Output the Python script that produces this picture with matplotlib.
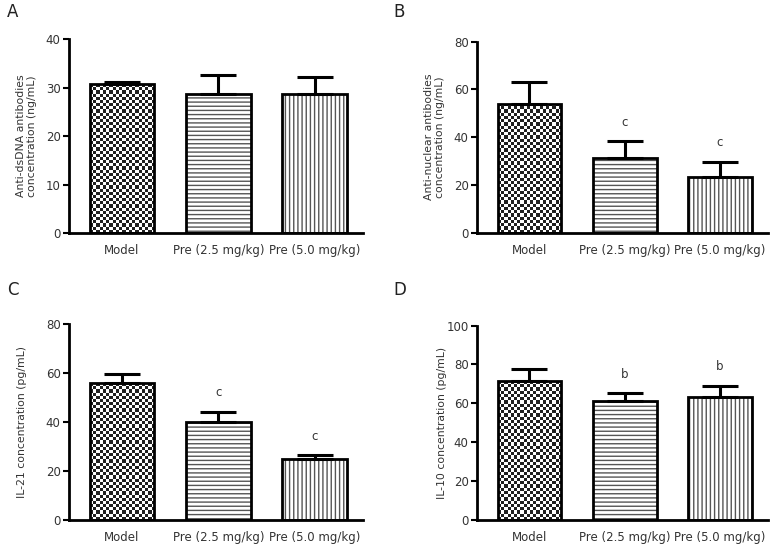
import numpy as np
import matplotlib
matplotlib.use("Agg")
import matplotlib.pyplot as plt

categories = ["Model", "Pre (2.5 mg/kg)", "Pre (5.0 mg/kg)"]

a_means = [30.7, 28.7, 28.7]
a_errs = [0.5, 3.9, 3.5]
b_means = [54.1, 31.1, 23.2]
b_errs = [9.1, 7.3, 6.5]
c_means = [55.8, 39.9, 24.8]
c_errs = [3.9, 4.2, 1.7]
d_means = [71.3, 61.3, 63.1]
d_errs = [6.4, 4.0, 6.0]

b_marks = ["", "c", "c"]
c_marks = ["", "c", "c"]
d_marks = ["", "b", "b"]
a_marks = ["", "", ""]

panels = [
    dict(letter="A", means=a_means, errs=a_errs, marks=a_marks, ymax=40, step=10,
         ylabel="Anti-dsDNA antibodies\nconcentration (ng/mL)",
         rect=[0.0888, 0.5748, 0.378, 0.354], lab=-0.108),
    dict(letter="B", means=b_means, errs=b_errs, marks=b_marks, ymax=80, step=20,
         ylabel="Anti-nuclear antibodies\nconcentration (ng/mL)",
         rect=[0.614, 0.5754, 0.374, 0.3485], lab=-0.110),
    dict(letter="C", means=c_means, errs=c_errs, marks=c_marks, ymax=80, step=20,
         ylabel="IL-21 concentration (pg/mL)",
         rect=[0.0888, 0.0511, 0.378, 0.3577], lab=-0.143),
    dict(letter="D", means=d_means, errs=d_errs, marks=d_marks, ymax=100, step=20,
         ylabel="IL-10 concentration (pg/mL)",
         rect=[0.614, 0.0516, 0.374, 0.3541], lab=-0.103),
]
letter_pos = {"A": (0.009, 0.978), "B": (0.506, 0.978), "C": (0.009, 0.471), "D": (0.506, 0.471)}

plt.rcParams["font.family"] = ["DejaVu Sans"]
plt.rcParams["hatch.linewidth"] = 1.0

fig = plt.figure(figsize=(7.77, 5.48), dpi=100)
fig.patch.set_facecolor("white")

x = np.arange(len(categories))
width = 0.67
hatches = [None, "----", "||||"]
txt_color = "#333333"

for p in panels:
    ax = fig.add_axes(p["rect"])
    ax.set_xlim(-0.55, 2.5)
    ax.set_ylim(0, p["ymax"])
    fig.canvas.draw()
    # hatched fills
    bars = ax.bar(x, p["means"], width, color="white", edgecolor="#555555",
                  linewidth=0, zorder=2)
    for bar, h in zip(bars, hatches):
        if h:
            bar.set_hatch(h)
    # checkerboard fill for Model bar
    r = bars[0]
    bx, bw, bh = r.get_x(), r.get_width(), r.get_height()
    p0 = ax.transData.transform((bx, 0))
    p1 = ax.transData.transform((bx + bw, bh))
    cell = 3.2
    nx = max(1, int(round((p1[0] - p0[0]) / cell)))
    ny = max(1, int(round((p1[1] - p0[1]) / cell)))
    board = (np.indices((ny, nx)).sum(axis=0) % 2).astype(float)
    im = ax.imshow(board, cmap="gray", extent=[bx, bx + bw, 0, bh], aspect="auto",
                   interpolation="nearest", zorder=2.5, vmin=-0.15, vmax=1)
    im.set_clip_path(r)
    # outlines
    ax.bar(x, p["means"], width, fill=False, edgecolor="black", linewidth=2.0, zorder=4)
    # error bars (upper only)
    ax.errorbar(x, p["means"], yerr=[np.zeros(3), p["errs"]], fmt="none",
                ecolor="black", elinewidth=2.2, capsize=13, capthick=2.2, zorder=3)
    for xi, m, e, t in zip(x, p["means"], p["errs"], p["marks"]):
        if t:
            ax.annotate(t, (xi, m + e), xytext=(0, 9), textcoords="offset points",
                        ha="center", va="bottom", fontsize=8.5, color=txt_color)
    ax.set_xlim(-0.55, 2.5)
    ax.set_ylim(0, p["ymax"])
    ax.set_yticks(np.arange(0, p["ymax"] + 1, p["step"]))
    ax.set_xticks(x)
    ax.set_xticklabels(categories, fontsize=8.5, color=txt_color)
    ax.tick_params(axis="x", length=0, pad=8)
    ax.set_xticks([1], minor=True)
    ax.tick_params(axis="x", which="minor", length=5, width=1.8, direction="out")
    ax.tick_params(axis="y", length=4, width=1.5, pad=2, labelsize=8.5, labelcolor=txt_color)
    for s in ["top", "right"]:
        ax.spines[s].set_visible(False)
    for s in ["left", "bottom"]:
        ax.spines[s].set_linewidth(2.0)
    ax.set_ylabel(p["ylabel"], fontsize=7.8, color=txt_color, linespacing=1.1)
    ax.yaxis.set_label_coords(p["lab"], 0.5)
    lx, ly = letter_pos[p["letter"]]
    fig.text(lx, ly, p["letter"], fontsize=12, color="#222222", va="center", ha="left")

fig.savefig("out.png", dpi=100, facecolor="white")
